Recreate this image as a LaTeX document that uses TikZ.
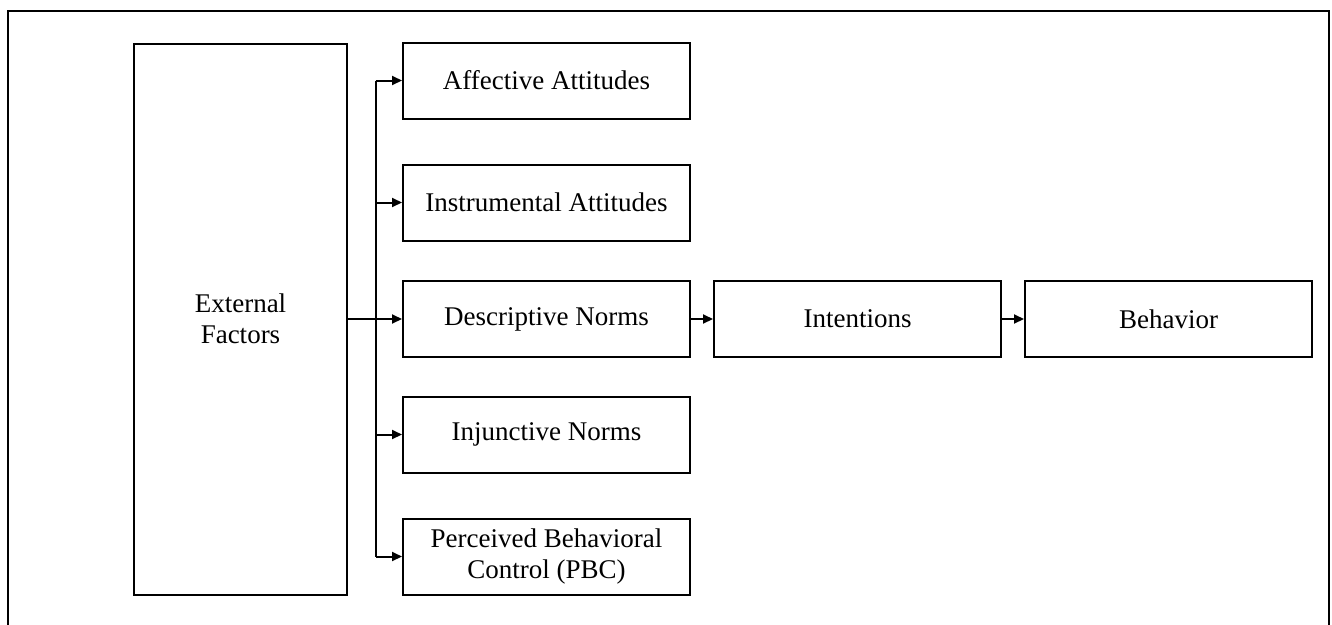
\documentclass[tikz,border=0pt]{standalone}
\usepackage{fontspec}
\setmainfont{Liberation Serif}
\usetikzlibrary{arrows.meta}
\tikzset{
  box/.style={draw=black, line width=2pt, minimum width=287pt, minimum height=76pt,
    align=center, inner sep=2pt, font=\fontsize{27}{31}\selectfont, fill=white},
  conn/.style={line width=2pt},
  arr/.style={line width=2pt, -{Triangle[length=10pt,width=9pt]}},
}
\begin{document}
\begin{tikzpicture}[x=1pt,y=-1pt]
\useasboundingbox (0,0) rectangle (1332,624);
% frame (bottom edge lies below the picture)
\draw[line width=2pt] (8,640) -- (8,11) -- (1329,11) -- (1329,640);
\node[box, minimum width=213pt, minimum height=551pt] (ext) at (240.5,319) {External\\Factors};
\node[box] (aff) at (546.5,80.5) {Affective Attitudes};
\node[box] (ins) at (546.5,202.5) {Instrumental Attitudes};
\node[box] (des) at (546.5,319) {Descriptive Norms};
\node[box] (inj) at (546.5,434.5) {Injunctive Norms};
\node[box] (pbc) at (546.5,556.5) {Perceived Behavioral\\Control (PBC)};
\node[box] (int) at (857.5,319) {Intentions};
\node[box] (beh) at (1168.5,319) {Behavior};
\coordinate (tr) at (375.5,319);
\draw[conn] (tr |- aff.west) -- (tr |- pbc.west);
\draw[arr] (tr |- aff.west) -- (aff.west);
\draw[arr] (tr |- ins.west) -- (ins.west);
\draw[arr] (ext.east) -- (des.west);
\draw[arr] (tr |- inj.west) -- (inj.west);
\draw[arr] (tr |- pbc.west) -- (pbc.west);
\draw[arr] (des.east) -- (int.west);
\draw[arr] (int.east) -- (beh.west);
\end{tikzpicture}
\end{document}
